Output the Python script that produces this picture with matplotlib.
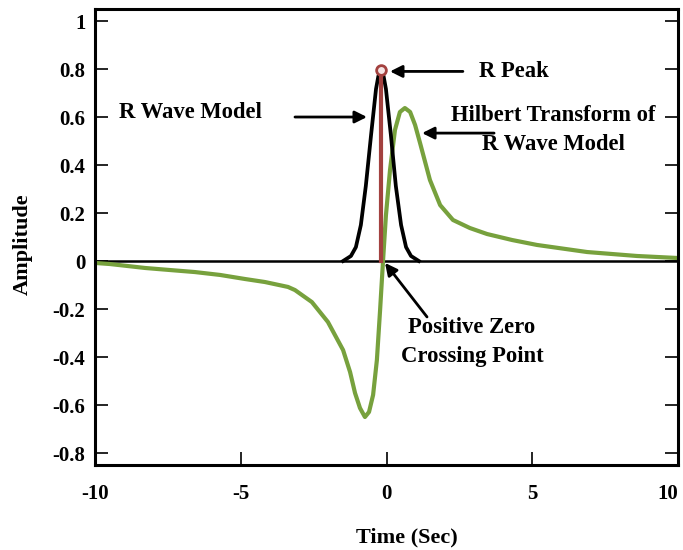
import matplotlib
matplotlib.use("Agg")
import matplotlib.pyplot as plt

# ---- data ----
r_wave_x = [-1.49, -1.22, -1.05, -0.88, -0.71, -0.53, -0.36, -0.28, -0.19,
            -0.10, -0.02, 0.15, 0.32, 0.50, 0.67, 0.84, 1.11]
r_wave_y = [0.0, 0.021, 0.058, 0.15, 0.3125, 0.525, 0.717, 0.77, 0.795,
            0.77, 0.717, 0.525, 0.3125, 0.15, 0.058, 0.021, 0.0]

hilbert_x = [-10.0, -9.49, -8.28, -7.43, -6.57, -5.71, -4.85, -4.17, -3.38,
             -3.14, -2.56, -2.01, -1.49, -1.25, -1.08, -0.91, -0.74, -0.60,
             -0.46, -0.33, -0.22, -0.12, -0.02, 0.12, 0.29, 0.46, 0.63, 0.81,
             0.98, 1.15, 1.49, 1.84, 2.28, 2.86, 3.45, 4.31, 5.16, 6.88,
             8.59, 10.0]
hilbert_y = [-0.008, -0.0125, -0.029, -0.0375, -0.046, -0.058, -0.075, -0.0875,
             -0.108, -0.121, -0.171, -0.254, -0.371, -0.4625, -0.55, -0.6125,
             -0.65, -0.629, -0.558, -0.4125, -0.204, 0.0, 0.19, 0.379, 0.546,
             0.621, 0.6375, 0.621, 0.567, 0.492, 0.3375, 0.233, 0.171, 0.1375,
             0.1125, 0.0875, 0.067, 0.0375, 0.021, 0.0125]

r_peak_x = -0.19
r_peak_y = 0.795

x_ticks = [-10, -5, 0, 5, 10]
x_tick_labels = ["-10", "-5", "0", "5", "10"]
y_ticks = [-0.8, -0.6, -0.4, -0.2, 0, 0.2, 0.4, 0.6, 0.8, 1]
y_tick_labels = ["-0.8", "-0.6", "-0.4", "-0.2", "0", "0.2", "0.4", "0.6", "0.8", "1"]

GREEN = "#77a13d"
RED = "#a3413f"

plt.rcParams['font.family'] = ['Liberation Serif', 'DejaVu Serif']
plt.rcParams['font.weight'] = 'bold'

fig = plt.figure(figsize=(6.83, 5.50), dpi=100)
ax = fig.add_axes([0.1391, 0.1545, 0.8536, 0.8291])

ax.axhline(0, color="black", lw=1.8, zorder=1)
ax.plot(hilbert_x, hilbert_y, color=GREEN, lw=3.0, zorder=2,
        solid_joinstyle='round', solid_capstyle='round')
ax.plot(r_wave_x, r_wave_y, color="black", lw=2.7, zorder=3,
        solid_joinstyle='round')
ax.plot([r_peak_x, r_peak_x], [0, r_peak_y], color=RED, lw=3.0, zorder=4)
ax.plot([r_peak_x], [r_peak_y], marker='o', ms=7, mfc='#f4e4e4', mec=RED,
        mew=2, zorder=5)

ax.set_xlim(-10, 10)
ax.set_ylim(-0.85, 1.05)
ax.set_xticks(x_ticks)
ax.set_xticklabels(x_tick_labels)
ax.set_yticks(y_ticks)
ax.set_yticklabels(y_tick_labels)
ax.tick_params(axis='both', direction='in', length=9.5, width=1.2,
               labelsize=15)
ax.tick_params(axis='y', right=True, pad=7)
ax.tick_params(axis='x', pad=14)
xtl = ax.get_xticklabels()
xtl[-1].set_ha('right')
for s in ax.spines.values():
    s.set_linewidth(2.2)

ax.set_xlabel("Time (Sec)", fontsize=16, fontweight='bold')
ax.set_ylabel("Amplitude", fontsize=16, fontweight='bold')
ax.xaxis.set_label_coords(0.535, -0.136)
ax.yaxis.set_label_coords(-0.106, 0.485)

arrow = dict(arrowstyle='-|>', mutation_scale=18, lw=2, color='black',
             shrinkA=0, shrinkB=0)
tfs = 16.3

# R Peak
ax.annotate("", xy=(0.12, 0.79), xytext=(2.62, 0.79), arrowprops=arrow)
ax.text(4.37, 0.79, "R Peak", fontsize=tfs, fontweight='bold',
        ha='center', va='center')

# R Wave Model
ax.annotate("", xy=(-0.67, 0.60), xytext=(-3.14, 0.60), arrowprops=arrow)
ax.text(-6.71, 0.62, "R Wave Model", fontsize=tfs, fontweight='bold',
        ha='center', va='center')

# Hilbert transform
ax.annotate("", xy=(1.22, 0.533), xytext=(3.69, 0.533), arrowprops=arrow)
ax.text(5.71, 0.546, "Hilbert Transform of\nR Wave Model", fontsize=tfs,
        fontweight='bold', ha='center', va='center', linespacing=1.5)

# Positive zero crossing
ax.annotate("", xy=(-0.05, -0.008), xytext=(1.39, -0.233), arrowprops=arrow)
ax.text(2.93, -0.3375, "Positive Zero\nCrossing Point", fontsize=tfs,
        fontweight='bold', ha='center', va='center', linespacing=1.5)

fig.savefig("out.png", dpi=100)
